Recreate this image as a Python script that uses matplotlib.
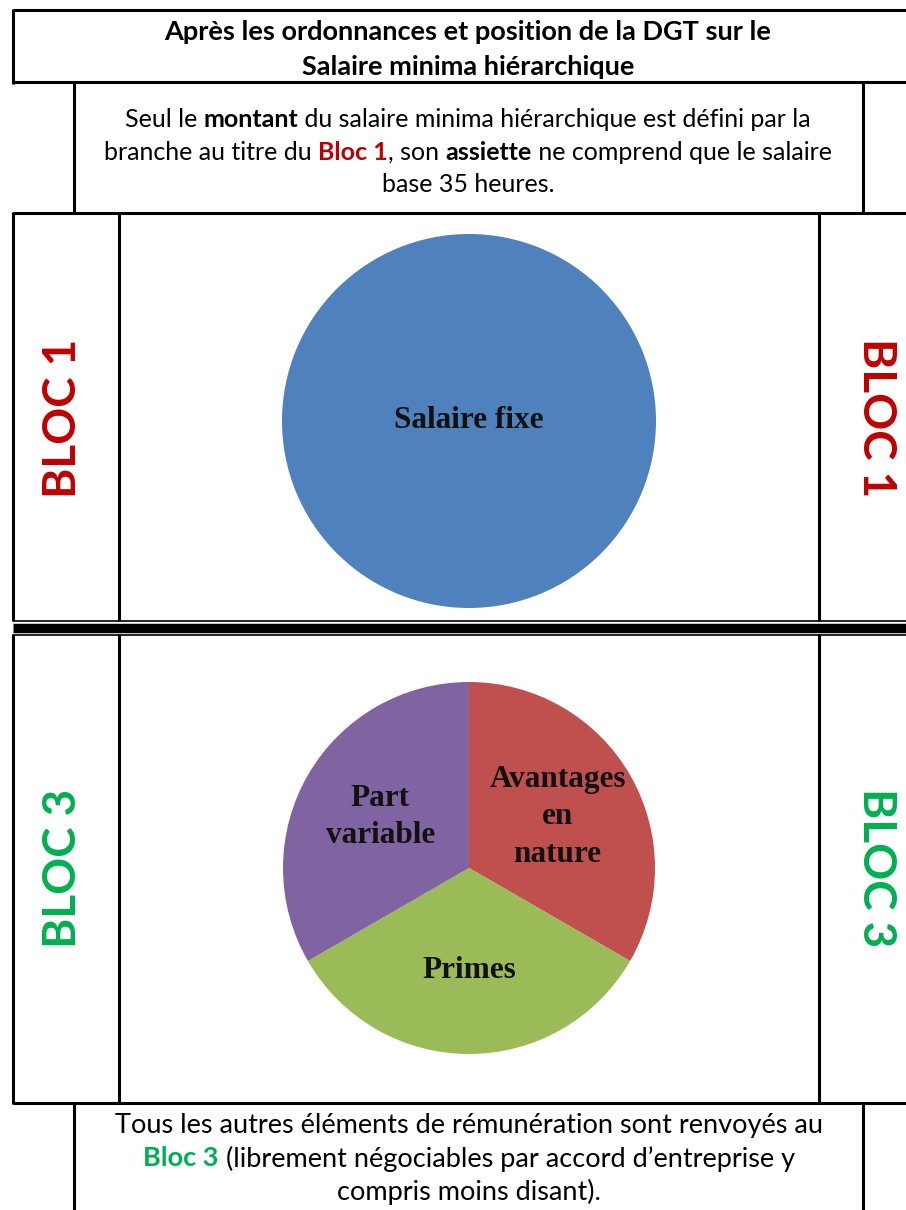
import matplotlib
matplotlib.use("Agg")
import matplotlib.pyplot as plt

plt.rcParams['font.family'] = ['Lato', 'DejaVu Sans']

W, H = 906, 1210

ROUGE = "#C00000"
VERT = "#00B050"

titre = ["Après les ordonnances et position de la DGT sur le",
         "Salaire minima hiérarchique"]

# bloc 1 : un seul morceau
bloc1_labels = ["Salaire fixe"]
bloc1_values = [1]
bloc1_colors = ["#4F81BD"]

# bloc 3 : trois parts egales, depuis le haut dans le sens horaire
bloc3_labels = ["Avantages\nen\nnature", "Primes", "Part\nvariable"]
bloc3_values = [1, 1, 1]
bloc3_colors = ["#C0504D", "#9BBB59", "#8064A2"]

texte_haut = [
    [("Seul le ", False, "k"), ("montant", True, "k"),
     (" du salaire minima hiérarchique est défini par la", False, "k")],
    [("branche au titre du ", False, "k"), ("Bloc 1", True, ROUGE),
     (", son ", False, "k"), ("assiette", True, "k"),
     (" ne comprend que le salaire", False, "k")],
    [("base 35 heures.", False, "k")],
]
texte_bas = [
    [("Tous les autres éléments de rémunération sont renvoyés au", False, "k")],
    [("Bloc 3", True, VERT),
     (" (librement négociables par accord d’entreprise y", False, "k")],
    [("compris moins disant).", False, "k")],
]

fig = plt.figure(figsize=(W / 100, H / 100), dpi=100)
ax = fig.add_axes([0, 0, 1, 1])
ax.set_xlim(0, W)
ax.set_ylim(H, 0)
ax.axis('off')

LW = 2.2


def trait(x0, y0, x1, y1, lw=LW):
    ax.plot([x0, x1], [y0, y1], color="black", lw=lw, solid_capstyle="butt")


# cadre du titre
trait(13, 10, W, 10)
trait(13, 82, W, 82)
trait(13, 8.5, 13, 83.5)
# second cadre
trait(74, 82, 74, 213)
trait(863, 82, 863, 213)
trait(13, 213, W, 213)
# bloc 1
for x in [13, 119, 819]:
    trait(x, 212, x, 621)
# double trait
trait(13, 621, W, 621, lw=1.2)
trait(13, 628.2, W, 628.2, lw=6.8)
trait(13, 634.7, W, 634.7, lw=1.2)
# bloc 3
for x in [13, 119, 819]:
    trait(x, 634, x, 1104)
trait(13, 1103, W, 1103)
# dernier cadre
trait(74, 1103, 74, H)
trait(863, 1103, 863, H)

fig.canvas.draw()
rend = fig.canvas.get_renderer()


def largeur(s, gras, size):
    t = ax.text(0, 0, "|" + s + "|", fontsize=size,
                fontweight="bold" if gras else "normal")
    w = t.get_window_extent(rend).width
    t.remove()
    t = ax.text(0, 0, "||", fontsize=size,
                fontweight="bold" if gras else "normal")
    w -= t.get_window_extent(rend).width
    t.remove()
    return w


def ligne(xc, y, morceaux, size):
    ws = [largeur(s, g, size) for s, g, c in morceaux]
    x = xc - sum(ws) / 2
    for (s, g, c), w in zip(morceaux, ws):
        ax.text(x, y, s, fontsize=size, fontweight="bold" if g else "normal",
                color=c, ha="left", va="baseline")
        x += w


ligne(468, 40, [(titre[0], True, "k")], 19.5)
ligne(468, 75, [(titre[1], True, "k")], 19.5)

for i, m in enumerate(texte_haut):
    ligne(468, 127 + i * 32.5, m, 18)
for i, m in enumerate(texte_bas):
    ligne(469, 1133 + i * 33.5, m, 19.5)

# etiquettes verticales
for yc, txt, col in [(418, "BLOC 1", ROUGE), (868, "BLOC 3", VERT)]:
    ax.text(63, yc, txt, rotation=90, ha="center", va="center",
            fontsize=33, fontweight="bold", color=col)
    ax.text(876, yc, txt, rotation=-90, ha="center", va="center",
            fontsize=33, fontweight="bold", color=col)

serif = dict(family=["Liberation Serif", "DejaVu Serif"], fontweight="bold",
             fontsize=22.5, ha="center", va="center", linespacing=1.38,
             color="#111111")


def camembert(cx, cy, r, values, labels, colors, dist):
    a = fig.add_axes([(cx - r) / W, 1 - (cy + r) / H, 2 * r / W, 2 * r / H])
    a.pie(values, labels=labels, colors=colors, startangle=90,
          counterclock=False, labeldistance=dist, radius=1,
          wedgeprops=dict(linewidth=0), textprops=serif)
    a.set_xlim(-1, 1)
    a.set_ylim(-1, 1)
    a.set_aspect("equal")
    a.axis("off")


camembert(469, 421, 187, bloc1_values, bloc1_labels, bloc1_colors, 0)
camembert(469, 868, 186, bloc3_values, bloc3_labels, bloc3_colors, 0.55)

fig.savefig("out.png", dpi=100)
